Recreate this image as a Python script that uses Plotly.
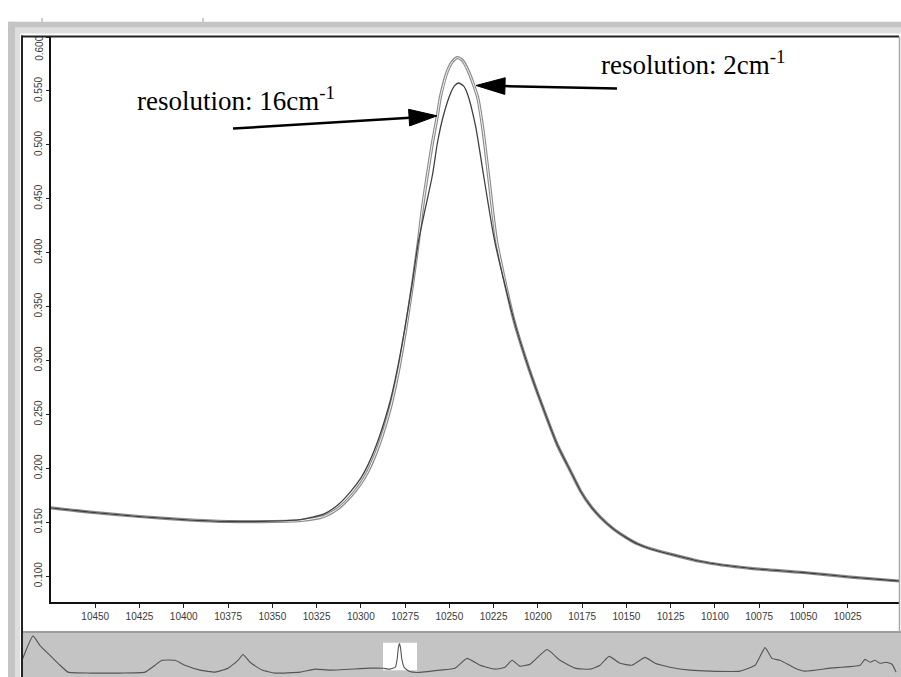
import plotly.graph_objects as go

# ---------------- data ----------------
wn_2 = [10475, 10450, 10425, 10400, 10375, 10350, 10334, 10321, 10313, 10306,
        10300, 10296, 10291, 10287, 10283, 10279, 10275, 10271, 10267.5, 10265.2,
        10262.4, 10259.5, 10256.7, 10255.0, 10251.1, 10248.2, 10245.4, 10242.6, 10239.2, 10234.1,
        10231.3, 10227.9, 10223.4, 10213.8, 10205.3, 10197.4, 10188.9, 10181.6, 10175.9, 10170.2,
        10164.6, 10157.8, 10150.5, 10143.7, 10136.3, 10108.1, 10079.8, 10051.6, 10023.3, 9996]
abs_2 = [0.1634, 0.1589, 0.1553, 0.1525, 0.1507, 0.1507, 0.1516, 0.1553, 0.1625, 0.1734,
         0.1860, 0.1970, 0.2160, 0.2350, 0.2580, 0.2880, 0.3250, 0.3680, 0.4100, 0.4415,
         0.4723, 0.5022, 0.5275, 0.5447, 0.5683, 0.5774, 0.5810, 0.5783, 0.5683, 0.5447,
         0.5176, 0.4723, 0.4116, 0.3391, 0.2938, 0.2576, 0.2214, 0.1975, 0.1790, 0.1650,
         0.1545, 0.1444, 0.1362, 0.1299, 0.1254, 0.1136, 0.1072, 0.1036, 0.0991, 0.0955]

wn_16 = [10475, 10450, 10425, 10400, 10375, 10350, 10334, 10321, 10313, 10306,
         10300, 10296, 10291, 10287, 10283, 10279, 10275, 10271, 10267.5, 10263.5,
         10259.5, 10256.7, 10253.3, 10249.4, 10247.1, 10244.8, 10242.0, 10239.8, 10235.2, 10230.7,
         10224.5, 10213.8, 10205.3, 10197.4, 10188.9, 10181.6, 10175.9, 10170.2, 10164.6, 10157.8,
         10150.5, 10143.7, 10136.3, 10108.1, 10079.8, 10051.6, 10023.3, 9996]
abs_16 = [0.1634, 0.1589, 0.1553, 0.1525, 0.1507, 0.1510, 0.1525, 0.1575, 0.1660, 0.1780,
          0.1910, 0.2030, 0.2225, 0.2420, 0.2650, 0.2950, 0.3310, 0.3710, 0.4100, 0.4415,
          0.4723, 0.5022, 0.5275, 0.5475, 0.5547, 0.5574, 0.5547, 0.5475, 0.5176, 0.4723,
          0.4116, 0.3391, 0.2938, 0.2576, 0.2214, 0.1975, 0.1790, 0.1650, 0.1545, 0.1444,
          0.1362, 0.1299, 0.1254, 0.1136, 0.1072, 0.1036, 0.0991, 0.0955]

# overview strip (full spectrum)
ov_wn = [15562, 15407, 15308, 15167, 15026, 14913, 14603, 14181, 13828, 13688,
         13589, 13406, 13265, 13053, 12842, 12659, 12518, 12448, 12349, 12180,
         11997, 11644, 11433, 11222, 10658, 10475, 10375, 10300, 10275, 10260,
         10245, 10230, 10210, 10175, 10100, 9996, 9672, 9461, 9291, 9108,
         8897, 8756, 8657, 8545, 8404, 8164, 7981, 7770, 7558, 7418,
         7291, 7136, 6967, 6783, 6642, 6431, 6149, 5867, 5445, 5233,
         5092, 4994, 4881, 4670, 4529, 4177, 3754, 3684, 3613, 3543,
         3473, 3388, 3303, 3247]
ov_abs = [0.299, 0.711, 0.546, 0.381, 0.216, 0.100, 0.084, 0.084, 0.100, 0.216,
          0.299, 0.299, 0.216, 0.134, 0.100, 0.167, 0.299, 0.398, 0.266, 0.134,
          0.084, 0.100, 0.150, 0.134, 0.167, 0.165, 0.151, 0.185, 0.330, 0.500,
          0.580, 0.520, 0.320, 0.176, 0.110, 0.095, 0.134, 0.167, 0.332, 0.216,
          0.150, 0.183, 0.299, 0.200, 0.233, 0.480, 0.299, 0.167, 0.150, 0.216,
          0.365, 0.249, 0.216, 0.348, 0.249, 0.183, 0.134, 0.117, 0.117, 0.216,
          0.513, 0.332, 0.299, 0.167, 0.117, 0.167, 0.216, 0.315, 0.266, 0.299,
          0.249, 0.266, 0.233, 0.100]

x_ticks = [10450, 10425, 10400, 10375, 10350, 10325, 10300, 10275, 10250,
           10225, 10200, 10175, 10150, 10125, 10100, 10075, 10050, 10025]
x_tick_labels = [str(v) for v in x_ticks]
y_ticks = [0.100, 0.150, 0.200, 0.250, 0.300, 0.350, 0.400, 0.450, 0.500, 0.550, 0.600]
y_tick_labels = ["%.3f" % v for v in y_ticks]

x_range = [10475, 9996]
y_range = [0.0764, 0.6005]
ov_x_range = [15562, 3205]
ov_y_range = [0.018, 0.76]

# ---------------- layout helpers (pixel -> paper) ----------------
W, H = 901, 677
def fx(p):
    return p / W
def fy(p):
    return 1 - p / H

fig = go.Figure()

# 2 cm-1 curve drawn as a hollow grey line (grey outline, white core)
fig.add_trace(go.Scatter(x=wn_2, y=abs_2, mode="lines", xaxis="x", yaxis="y",
                         line=dict(color="#8c8c8c", width=3.2, shape="spline", smoothing=0.6),
                         name="2cm-1", hoverinfo="skip"))
fig.add_trace(go.Scatter(x=wn_2, y=abs_2, mode="lines", xaxis="x", yaxis="y",
                         line=dict(color="#f4f4f4", width=1.0, shape="spline", smoothing=0.6),
                         name="2cm-1 core", hoverinfo="skip"))
fig.add_trace(go.Scatter(x=wn_16, y=abs_16, mode="lines", xaxis="x", yaxis="y",
                         line=dict(color="#404040", width=1.3, shape="spline", smoothing=0.6),
                         name="16cm-1", hoverinfo="skip"))
fig.add_trace(go.Scatter(x=ov_wn, y=ov_abs, mode="lines", xaxis="x2", yaxis="y2",
                         line=dict(color="#555555", width=1.1, shape="spline", smoothing=0.4),
                         name="overview", hoverinfo="skip"))
# empty trace so the helper axis carrying the (shifted) top label is drawn
fig.add_trace(go.Scatter(x=[None], y=[None], xaxis="x3", yaxis="y3",
                         showlegend=False, hoverinfo="skip"))

shapes = []
# window chrome
shapes.append(dict(type="rect", xref="paper", yref="paper", layer="below",
                   x0=fx(8), x1=fx(15), y0=fy(677), y1=fy(8),
                   fillcolor="#c4c4c4", line=dict(width=0)))
shapes.append(dict(type="rect", xref="paper", yref="paper", layer="below",
                   x0=fx(15), x1=fx(20), y0=fy(677), y1=fy(14),
                   fillcolor="#dedede", line=dict(width=0)))
shapes.append(dict(type="rect", xref="paper", yref="paper", layer="below",
                   x0=fx(8), x1=fx(901), y0=fy(14), y1=fy(8),
                   fillcolor="#c4c4c4", line=dict(width=0)))
shapes.append(dict(type="rect", xref="paper", yref="paper", layer="below",
                   x0=fx(15), x1=fx(901), y0=fy(20), y1=fy(14),
                   fillcolor="#dedede", line=dict(width=0)))
for xm in (42, 203):
    shapes.append(dict(type="line", xref="paper", yref="paper", layer="below",
                       x0=fx(xm), x1=fx(xm), y0=fy(8), y1=fy(4),
                       line=dict(color="#9a9a9a", width=1)))
# overview strip
shapes.append(dict(type="rect", xref="paper", yref="paper", layer="below",
                   x0=fx(22), x1=fx(901), y0=fy(677), y1=fy(631),
                   fillcolor="#c4c4c4", line=dict(width=0)))
shapes.append(dict(type="line", xref="paper", yref="paper", layer="below",
                   x0=fx(22), x1=fx(901), y0=fy(631), y1=fy(631),
                   line=dict(color="#9c9c9c", width=2)))
shapes.append(dict(type="rect", xref="x2", yref="y2", layer="below",
                   x0=x_range[0], x1=x_range[1], y0=0.1335, y1=0.596,
                   fillcolor="#ffffff", line=dict(width=0)))
# frame lines
shapes.append(dict(type="line", xref="paper", yref="paper",
                   x0=fx(22), x1=fx(22), y0=fy(677), y1=fy(22),
                   line=dict(color="#222222", width=2)))
shapes.append(dict(type="line", xref="paper", yref="paper",
                   x0=fx(21), x1=fx(899), y0=fy(23), y1=fy(23),
                   line=dict(color="#222222", width=2)))
shapes.append(dict(type="line", xref="paper", yref="paper",
                   x0=fx(899.5), x1=fx(899.5), y0=fy(631), y1=fy(23),
                   line=dict(color="#a8a8a8", width=1.5)))

def arrow(tail, base, c1, c2, tip):
    shapes.append(dict(type="line", xref="paper", yref="paper",
                       x0=fx(tail[0]), y0=fy(tail[1]), x1=fx(base[0]), y1=fy(base[1]),
                       line=dict(color="black", width=2.5)))
    path = "M %f,%f L %f,%f L %f,%f Z" % (fx(c1[0]), fy(c1[1]), fx(c2[0]), fy(c2[1]),
                                          fx(tip[0]), fy(tip[1]))
    shapes.append(dict(type="path", xref="paper", yref="paper", path=path,
                       fillcolor="black", line=dict(color="black", width=1)))

arrow((233, 117), (410, 106), (409.6, 114.3), (408.6, 97.3), (437, 104))
arrow((617, 76), (505, 73.6), (505.2, 65.1), (504.8, 82.1), (476, 73))

serif = dict(family="Liberation Serif, Times New Roman, serif", size=27, color="black")
annotations = [
    dict(xref="paper", yref="paper", x=fx(135), y=fy(87), xanchor="left", yanchor="middle",
         text="resolution: 16cm<sup>-1</sup>", showarrow=False, font=serif),
    dict(xref="paper", yref="paper", x=fx(599), y=fy(50), xanchor="left", yanchor="middle",
         text="resolution: 2cm<sup>-1</sup>", showarrow=False, font=serif),
]

tick_font = dict(family="Liberation Sans, Arial, sans-serif", size=10, color="#3a3a3a")
main_y_labels = [t if v < 0.59 else "" for v, t in zip(y_ticks, y_tick_labels)]
top_y_label = [t for v, t in zip(y_ticks, y_tick_labels) if v >= 0.59]
top_y_val = [v for v in y_ticks if v >= 0.59]

fig.update_layout(
    width=W, height=H,
    margin=dict(l=0, r=0, t=0, b=0),
    paper_bgcolor="white",
    plot_bgcolor="rgba(0,0,0,0)",
    showlegend=False,
    shapes=shapes,
    annotations=annotations,
    xaxis=dict(domain=[fx(51), fx(899)], range=x_range, anchor="y",
               tickmode="array", tickvals=x_ticks, ticktext=x_tick_labels,
               ticks="outside", ticklen=4, tickwidth=1, tickcolor="#222",
               showline=True, linecolor="#111", linewidth=2,
               showgrid=False, zeroline=False, tickfont=tick_font),
    yaxis=dict(domain=[fy(600), fy(23)], range=y_range, anchor="x",
               tickmode="array", tickvals=y_ticks, ticktext=main_y_labels,
               ticks="outside", ticklen=3, tickwidth=1, tickcolor="#222",
               tickangle=-90,
               showline=True, linecolor="#111", linewidth=1.5,
               showgrid=False, zeroline=False, tickfont=tick_font),
    # helper axis: same scale, shifted 13 px down, only to place the top label inside the frame
    xaxis3=dict(domain=[fx(51), fx(899)], range=x_range, anchor="y3", visible=False),
    yaxis3=dict(domain=[fy(613), fy(36)], range=y_range, anchor="x3",
                tickmode="array", tickvals=top_y_val, ticktext=top_y_label,
                ticks="outside", ticklen=3, tickcolor="rgba(0,0,0,0)", tickangle=-90,
                showline=False, showgrid=False, zeroline=False, tickfont=tick_font),
    xaxis2=dict(domain=[fx(22), fx(899)], range=ov_x_range, anchor="y2", visible=False),
    yaxis2=dict(domain=[0, fy(632)], range=ov_y_range, anchor="x2", visible=False),
)

fig.write_html("out.html")
